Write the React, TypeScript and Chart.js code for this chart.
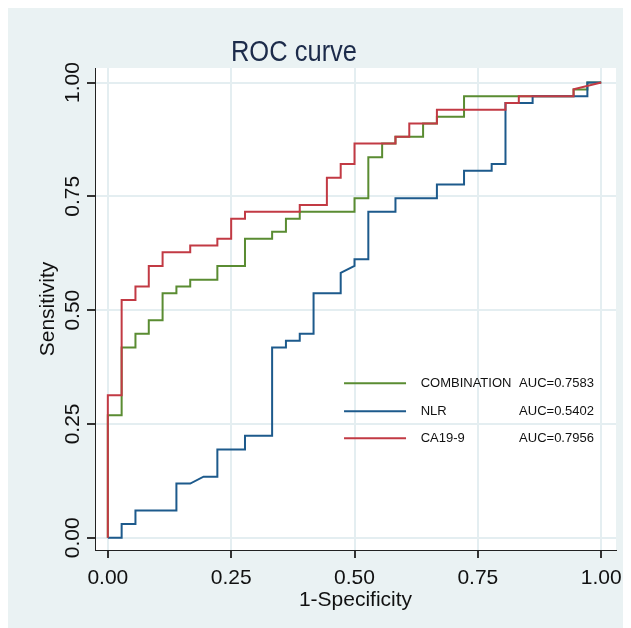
import React, { useEffect, useRef } from "react";
import { Chart, registerables } from "chart.js";

Chart.register(...registerables);

const TITLE = "ROC curve";
const X_TITLE = "1-Specificity";
const Y_TITLE = "Sensitivity";
const TICK_VALUES = [0, 0.25, 0.5, 0.75, 1];
const TICK_LABELS = ["0.00", "0.25", "0.50", "0.75", "1.00"];

const SERIES_NAMES = ["COMBINATION", "NLR", "CA19-9"];
const SERIES_AUC = ["AUC=0.7583", "AUC=0.5402", "AUC=0.7956"];
const SERIES_COLORS = ["#5a8c32", "#1d5a8c", "#c23a44"];

// COMBINATION
const combX = [0, 0, 0.028, 0.028, 0.056, 0.056, 0.083, 0.083, 0.111, 0.111, 0.139, 0.139, 0.167, 0.167, 0.222, 0.222, 0.278, 0.278, 0.333, 0.333, 0.361, 0.361, 0.389, 0.389, 0.5, 0.5, 0.528, 0.528, 0.556, 0.556, 0.583, 0.583, 0.639, 0.639, 0.667, 0.667, 0.722, 0.722, 0.944, 0.944, 0.972, 0.972, 1];
const combY = [0, 0.269, 0.269, 0.418, 0.418, 0.448, 0.448, 0.478, 0.478, 0.537, 0.537, 0.552, 0.552, 0.567, 0.567, 0.597, 0.597, 0.657, 0.657, 0.672, 0.672, 0.701, 0.701, 0.716, 0.716, 0.746, 0.746, 0.836, 0.836, 0.866, 0.866, 0.881, 0.881, 0.91, 0.91, 0.925, 0.925, 0.97, 0.97, 0.985, 0.985, 1, 1];

// NLR
const nlrX = [0, 0.028, 0.028, 0.056, 0.056, 0.139, 0.139, 0.167, 0.194, 0.222, 0.222, 0.278, 0.278, 0.333, 0.333, 0.361, 0.361, 0.389, 0.389, 0.417, 0.417, 0.472, 0.472, 0.5, 0.5, 0.528, 0.528, 0.583, 0.583, 0.667, 0.667, 0.722, 0.722, 0.778, 0.778, 0.806, 0.806, 0.861, 0.861, 0.972, 0.972, 1];
const nlrY = [0, 0, 0.03, 0.03, 0.06, 0.06, 0.119, 0.119, 0.134, 0.134, 0.194, 0.194, 0.224, 0.224, 0.418, 0.418, 0.433, 0.433, 0.448, 0.448, 0.537, 0.537, 0.582, 0.597, 0.612, 0.612, 0.716, 0.716, 0.746, 0.746, 0.776, 0.776, 0.806, 0.806, 0.821, 0.821, 0.955, 0.955, 0.97, 0.97, 1, 1];

// CA19-9
const caX = [0, 0, 0.028, 0.028, 0.056, 0.056, 0.083, 0.083, 0.111, 0.111, 0.167, 0.167, 0.222, 0.222, 0.25, 0.25, 0.278, 0.278, 0.389, 0.389, 0.444, 0.444, 0.472, 0.472, 0.5, 0.5, 0.583, 0.583, 0.611, 0.611, 0.667, 0.667, 0.806, 0.806, 0.833, 0.833, 0.944, 0.944, 1];
const caY = [0, 0.313, 0.313, 0.522, 0.522, 0.552, 0.552, 0.597, 0.597, 0.627, 0.627, 0.642, 0.642, 0.657, 0.657, 0.701, 0.701, 0.716, 0.716, 0.731, 0.731, 0.791, 0.791, 0.821, 0.821, 0.866, 0.866, 0.881, 0.881, 0.91, 0.91, 0.94, 0.94, 0.955, 0.955, 0.97, 0.97, 0.985, 1];

const SERIES_X = [combX, nlrX, caX];
const SERIES_Y = [combY, nlrY, caY];

const BG = "#eaf2f3";
const GRID = "#e4eef1";
const W = 640;
const H = 640;

const toPoints = (xs: number[], ys: number[]) => xs.map((x, i) => ({ x, y: ys[i] }));

const overlay = {
  id: "overlay",
  beforeDraw(chart: any) {
    const { ctx, chartArea } = chart;
    ctx.save();
    ctx.fillStyle = BG;
    ctx.fillRect(0, 0, chart.width, chart.height);
    ctx.fillStyle = "#ffffff";
    ctx.fillRect(chartArea.left, chartArea.top, chartArea.right - chartArea.left, chartArea.bottom - chartArea.top);
    ctx.restore();
  },
  afterDraw(chart: any) {
    const { ctx, chartArea } = chart;
    const xs = chart.scales.x;
    const ys = chart.scales.y;
    const cw = chartArea.right - chartArea.left;
    const chh = chartArea.bottom - chartArea.top;
    ctx.save();
    // Title
    ctx.fillStyle = "#1c2b4a";
    ctx.font = "30px Arial, 'Liberation Sans', sans-serif";
    ctx.textAlign = "center";
    ctx.textBaseline = "alphabetic";
    ctx.save();
    ctx.translate(286, 53);
    ctx.scale(0.85, 1);
    ctx.fillText(TITLE, 0, 0);
    ctx.restore();

    ctx.fillStyle = "#111111";
    ctx.font = "21px Arial, 'Liberation Sans', sans-serif";
    // X tick labels
    TICK_VALUES.forEach((v, i) => {
      ctx.textAlign = "center";
      ctx.textBaseline = "alphabetic";
      ctx.fillText(TICK_LABELS[i], xs.getPixelForValue(v), chartArea.bottom + 34);
    });
    // Y tick labels (rotated)
    TICK_VALUES.forEach((v, i) => {
      ctx.save();
      ctx.translate(chartArea.left - 16.5, ys.getPixelForValue(v));
      ctx.rotate(-Math.PI / 2);
      ctx.textAlign = "center";
      ctx.textBaseline = "alphabetic";
      ctx.fillText(TICK_LABELS[i], 0, 0);
      ctx.restore();
    });
    // Axis titles
    ctx.textAlign = "center";
    ctx.textBaseline = "alphabetic";
    ctx.fillText(X_TITLE, chartArea.left + cw / 2, chartArea.bottom + 56);
    ctx.save();
    ctx.translate(chartArea.left - 41.5, chartArea.top + chh / 2);
    ctx.rotate(-Math.PI / 2);
    ctx.fillText(Y_TITLE, 0, 0);
    ctx.restore();

    // Legend
    ctx.font = "13px Arial, 'Liberation Sans', sans-serif";
    ctx.textBaseline = "middle";
    ctx.textAlign = "left";
    const rows = [0.654, 0.712, 0.768];
    SERIES_NAMES.forEach((name, i) => {
      const y = chartArea.top + rows[i] * chh;
      ctx.strokeStyle = SERIES_COLORS[i];
      ctx.lineWidth = 2;
      ctx.beginPath();
      ctx.moveTo(chartArea.left + 0.478 * cw, y);
      ctx.lineTo(chartArea.left + 0.597 * cw, y);
      ctx.stroke();
      ctx.fillStyle = "#111111";
      ctx.fillText(name, chartArea.left + 0.625 * cw, y);
      ctx.fillText(SERIES_AUC[i], chartArea.left + 0.814 * cw, y);
    });
    ctx.restore();
  },
};

export default function App() {
  const ref = useRef<HTMLCanvasElement | null>(null);
  useEffect(() => {
    document.body.style.overflow = "hidden";
    document.documentElement.style.overflow = "hidden";
    if (!ref.current) return;
    const fixTicks = (scale: any) => {
      scale.ticks = TICK_VALUES.map((v) => ({ value: v }));
    };
    const chart = new Chart(ref.current, {
      type: "line",
      data: {
        datasets: SERIES_NAMES.map((name, i) => ({
          label: name,
          data: toPoints(SERIES_X[i], SERIES_Y[i]),
          borderColor: SERIES_COLORS[i],
          backgroundColor: SERIES_COLORS[i],
          borderWidth: 2,
          pointRadius: 0,
          tension: 0,
          fill: false,
          order: 3 - i,
        })),
      },
      options: {
        responsive: false,
        animation: false,
        devicePixelRatio: 1,
        layout: { padding: { left: 0, top: 60, right: 32, bottom: 0 } },
        plugins: {
          legend: { display: false },
          title: { display: false },
          tooltip: { enabled: false },
        },
        scales: {
          x: {
            type: "linear",
            min: -0.026,
            max: 1.03,
            afterBuildTicks: fixTicks,
            afterFit: (s: any) => {
              s.height = 98;
            },
            ticks: { display: false },
            grid: { color: GRID, lineWidth: 2, tickColor: "#333333", tickLength: 8, drawTicks: true },
            border: { display: true, color: "#222222", width: 1 },
          },
          y: {
            type: "linear",
            min: -0.027,
            max: 1.032,
            afterBuildTicks: fixTicks,
            afterFit: (s: any) => {
              s.width = 87;
            },
            ticks: { display: false },
            grid: { color: GRID, lineWidth: 2, tickColor: "#333333", tickLength: 8, drawTicks: true },
            border: { display: true, color: "#222222", width: 1 },
          },
        },
      },
      plugins: [overlay],
    });
    return () => chart.destroy();
  }, []);
  return <canvas ref={ref} width={W} height={H} style={{ display: "block", width: W, height: H }} />;
}
